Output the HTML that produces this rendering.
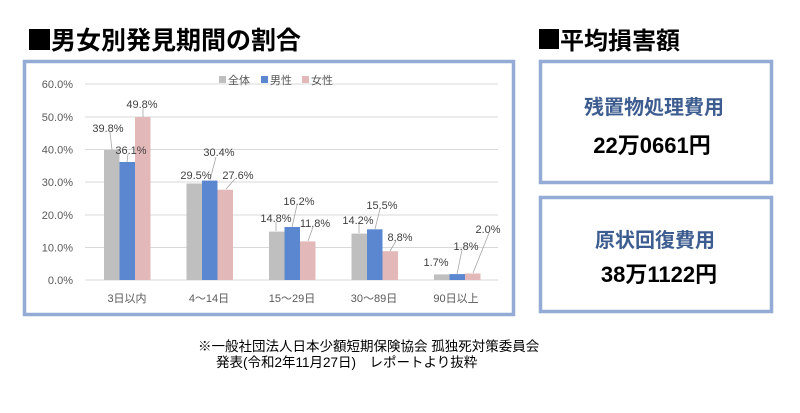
<!DOCTYPE html>
<html><head><meta charset="utf-8"><style>
html,body{margin:0;padding:0;background:#fff;}
svg{display:block;}
</style></head><body>
<svg width="800" height="413" viewBox="0 0 800 413" xmlns="http://www.w3.org/2000/svg" font-family="Liberation Sans, Noto Sans CJK JP, sans-serif">
<rect width="800" height="413" fill="#fff"/>
<rect x="29" y="29" width="21" height="21" fill="#000"/>
<text x="51" y="49" font-size="25" font-weight="bold" fill="#000" font-family="Noto Sans CJK JP, sans-serif">男女別発見期間の割合</text>
<rect x="539" y="29" width="20" height="20" fill="#000"/>
<text x="560" y="49" font-size="24" font-weight="bold" fill="#000" font-family="Noto Sans CJK JP, sans-serif">平均損害額</text>
<rect x="24.5" y="61.5" width="489" height="253" fill="#fff" stroke="#93abd5" stroke-width="3.5"/>
<rect x="540.5" y="61.5" width="231" height="121" fill="#fff" stroke="#93abd5" stroke-width="3.5"/>
<rect x="540.5" y="197.5" width="231" height="114" fill="#fff" stroke="#93abd5" stroke-width="3.5"/>
<g stroke="#d9d9d9" stroke-width="1">
<line x1="85" y1="84" x2="498" y2="84"/><line x1="85" y1="117" x2="498" y2="117"/>
<line x1="85" y1="149.5" x2="498" y2="149.5"/><line x1="85" y1="182" x2="498" y2="182"/>
<line x1="85" y1="215" x2="498" y2="215"/><line x1="85" y1="247.5" x2="498" y2="247.5"/>
<line x1="85" y1="280" x2="498" y2="280"/>
</g>
<g font-size="11" fill="#595959" text-anchor="end">
<text x="73" y="88">60.0%</text><text x="73" y="121">50.0%</text><text x="73" y="153.5">40.0%</text>
<text x="73" y="186">30.0%</text><text x="73" y="219">20.0%</text><text x="73" y="251.5">10.0%</text><text x="73" y="284">0.0%</text>
</g>
<g font-size="11" fill="#595959">
<rect x="219" y="76" width="7" height="7" fill="#bfbfbf"/><text x="228" y="84">全体</text>
<rect x="261" y="76" width="7" height="7" fill="#5b87d0"/><text x="270" y="84">男性</text>
<rect x="302" y="76" width="7" height="7" fill="#e3b8b8"/><text x="311" y="84">女性</text>
</g>
<g>
<rect x="104" y="150" width="15.5" height="130" fill="#bfbfbf"/><rect x="119.5" y="162" width="15.5" height="118" fill="#5b87d0"/><rect x="135" y="117" width="15.5" height="163" fill="#e3b8b8"/>
<rect x="186.5" y="183.5" width="15.5" height="96.5" fill="#bfbfbf"/><rect x="202" y="180.6" width="15.5" height="99.4" fill="#5b87d0"/><rect x="217.5" y="189.7" width="15.5" height="90.3" fill="#e3b8b8"/>
<rect x="269" y="231.6" width="15.5" height="48.4" fill="#bfbfbf"/><rect x="284.5" y="227" width="15.5" height="53" fill="#5b87d0"/><rect x="300" y="241.4" width="15.5" height="38.6" fill="#e3b8b8"/>
<rect x="351.5" y="233.6" width="15.5" height="46.4" fill="#bfbfbf"/><rect x="367" y="229.3" width="15.5" height="50.7" fill="#5b87d0"/><rect x="382.5" y="251.2" width="15.5" height="28.8" fill="#e3b8b8"/>
<rect x="434" y="274.4" width="15.5" height="5.6" fill="#bfbfbf"/><rect x="449.5" y="274.1" width="15.5" height="5.9" fill="#5b87d0"/><rect x="465" y="273.5" width="15.5" height="6.5" fill="#e3b8b8"/>
</g>
<g stroke="#a6a6a6" stroke-width="0.8" fill="none">
<line x1="110" y1="132" x2="112" y2="150"/><line x1="128" y1="154" x2="127" y2="162"/><line x1="143" y1="108" x2="143" y2="117"/>
<line x1="216" y1="157" x2="210" y2="180"/><line x1="235" y1="179" x2="226" y2="189"/>
<line x1="276" y1="222" x2="276" y2="231"/><line x1="297" y1="205" x2="292" y2="227"/><line x1="313" y1="227" x2="308" y2="241"/>
<line x1="359" y1="224" x2="359" y2="233"/><line x1="380" y1="209" x2="375" y2="229"/><line x1="396" y1="241" x2="390" y2="251"/>
<line x1="462" y1="250" x2="457" y2="274"/><line x1="489" y1="233" x2="473" y2="273"/>
</g>
<g font-size="11" fill="#404040" text-anchor="middle">
<text x="108" y="132">39.8%</text><text x="131" y="154">36.1%</text><text x="142" y="108">49.8%</text>
<text x="196" y="179">29.5%</text><text x="219" y="156">30.4%</text><text x="238" y="179">27.6%</text>
<text x="276" y="222">14.8%</text><text x="299" y="205">16.2%</text><text x="315" y="227">11.8%</text>
<text x="358" y="224">14.2%</text><text x="382" y="209">15.5%</text><text x="400" y="241">8.8%</text>
<text x="436" y="266">1.7%</text><text x="466" y="250">1.8%</text><text x="488" y="233">2.0%</text>
</g>
<g font-size="11" fill="#595959" text-anchor="middle">
<text x="127" y="302">3日以内</text><text x="209" y="302">4〜14日</text><text x="292" y="302">15〜29日</text>
<text x="374" y="302">30〜89日</text><text x="456" y="302">90日以上</text>
</g>
<text x="654" y="114" font-size="20" font-weight="bold" fill="#3d5c8f" text-anchor="middle" font-family="Noto Sans CJK JP, sans-serif">残置物処理費用</text>
<text x="652" y="153" font-size="22" font-weight="bold" fill="#000" text-anchor="middle">22万0661円</text>
<text x="655" y="247" font-size="20" font-weight="bold" fill="#3d5c8f" text-anchor="middle" font-family="Noto Sans CJK JP, sans-serif">原状回復費用</text>
<text x="659" y="282" font-size="22" font-weight="bold" fill="#000" text-anchor="middle">38万1122円</text>
<text x="198" y="351" font-size="13.5" fill="#000">※一般社団法人日本少額短期保険協会 孤独死対策委員会</text>
<text x="216" y="367" font-size="13.5" fill="#000">発表(令和2年11月27日)　レポートより抜粋</text>
</svg>
</body></html>
